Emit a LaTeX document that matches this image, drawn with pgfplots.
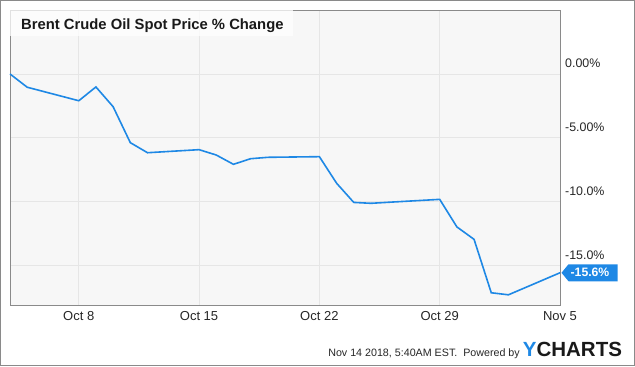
\documentclass[border=0pt]{standalone}
\usepackage{pgfplots}
\pgfplotsset{compat=1.18}
\usepackage{fontspec}
\setmainfont{Liberation Sans}
\definecolor{ycblue}{HTML}{1E88E5}
\definecolor{plotbg}{HTML}{F7F7F7}
\definecolor{gridc}{HTML}{E6E6E6}
\definecolor{framec}{HTML}{8A8A8A}
\pgfplotstableread{
x y
4 0.0
5 -1.04
8 -2.10
9 -1.02
10 -2.57
11 -5.39
12 -6.18
15 -5.94
16 -6.36
17 -7.09
18 -6.65
19 -6.54
22 -6.49
23 -8.57
24 -10.08
25 -10.15
26 -10.07
29 -9.84
30 -12.00
31 -12.98
32 -17.17
33 -17.33
36 -15.60
}\brent
\begin{document}
\begin{tikzpicture}[x=1bp,y=1bp]
\useasboundingbox (0,0) rectangle (635,366);
\draw[framec, line width=1bp] (0.5,0.5) rectangle (634.5,365.5);
\begin{axis}[
  at={(10bp,61bp)}, anchor=south west,
  scale only axis, width=550bp, height=295bp,
  xmin=4, xmax=36, ymin=-18.13, ymax=5.02,
  axis background/.style={fill=plotbg},
  axis line style={framec, line width=0.8bp},
  grid=major, major grid style={gridc, line width=0.8bp},
  major tick length=0pt,
  xtick={8,15,22,29,36},
  xticklabels={Oct 8, Oct 15, Oct 22, Oct 29, Nov 5},
  ytick={-15,-10,-5,0},
  yticklabels={-15.0\%,-10.0\%,-5.00\%,0.00\%},
  yticklabel pos=right,
  xticklabel style={anchor=base, inner sep=0pt, yshift=-15.7bp, font=\fontsize{13bp}{15bp}\selectfont, text=black!85},
  yticklabel style={anchor=base west, inner sep=0pt, xshift=5bp, yshift=6bp, font=\fontsize{12.4bp}{14bp}\selectfont, text=black!85},
  clip=false,
]
\addplot[ycblue, line width=1.6bp, mark=none] table[x=x,y=y] {\brent};
\coordinate (tag) at (axis cs:36,-15.6);
\end{axis}
\fill[ycblue] ([xshift=1.5bp]tag) -- ++(7,8.5) -- ++(49,0) -- ++(0,-17) -- ++(-49,0) -- cycle;
\node[anchor=center, inner sep=0pt, text=white, font=\bfseries\fontsize{12.2bp}{14bp}\selectfont] at ([xshift=30bp]tag) {-15.6\%};
\fill[white, opacity=0.75] (10.4,330.3) rectangle (292.7,355.6);
\node[anchor=base west, inner sep=0pt, font=\bfseries\fontsize{14.8bp}{17bp}\selectfont, text=black!90] at (21,337) {Brent Crude Oil Spot Price \% Change};
\node[anchor=base east, inner sep=0pt, font=\fontsize{10.7bp}{12bp}\selectfont, text=black!85] at (520,9.3) {Nov 14 2018, 5:40AM EST.\ \ Powered by};
\node[anchor=base west, inner sep=0pt, font=\bfseries\fontsize{20.5bp}{22bp}\selectfont] at (522.7,9.3) {\textcolor{ycblue}{Y}\textcolor{black!90}{CHARTS}};
\end{tikzpicture}
\end{document}
